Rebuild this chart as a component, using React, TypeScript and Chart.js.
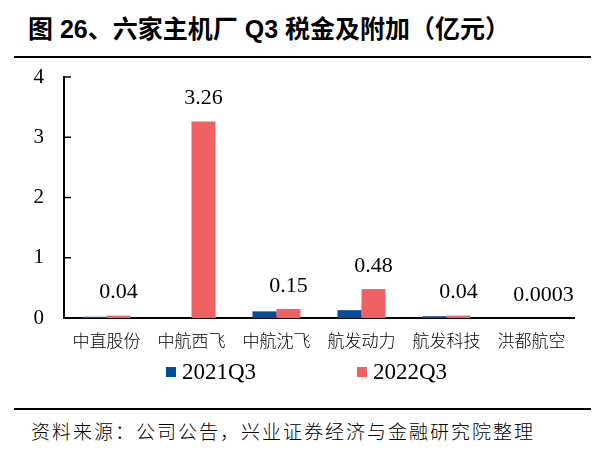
import React, { useEffect, useRef } from "react";
import { Chart, registerables } from "chart.js";

Chart.register(...registerables);

const categories = ["中直股份", "中航西飞", "中航沈飞", "航发动力", "航发科技", "洪都航空"];
const seriesNames = ["2021Q3", "2022Q3"];
const series2021 = [0.02, 0, 0.11, 0.13, 0.03, 0];
const series2022 = [0.04, 3.26, 0.15, 0.48, 0.04, 0.0003];
const labels2022 = ["0.04", "3.26", "0.15", "0.48", "0.04", "0.0003"];
const yTicks = [0, 1, 2, 3, 4];

const BLUE = "#024C98";
const RED = "#F06163";
const SERIF = "'Liberation Serif', 'DejaVu Serif'";
const CJK = "'Noto Sans CJK SC'";

const dataLabelPlugin = {
  id: "dataLabels",
  afterDatasetsDraw(chart: any) {
    const ctx = chart.ctx;
    const meta = chart.getDatasetMeta(1);
    ctx.save();
    ctx.font = `22px ${SERIF}`;
    ctx.fillStyle = "#000";
    ctx.textAlign = "center";
    ctx.textBaseline = "middle";
    meta.data.forEach((bar: any, i: number) => {
      ctx.fillText(labels2022[i], bar.x, bar.y - 23);
    });
    ctx.restore();
  },
};

const innerTicksPlugin = {
  id: "innerTicks",
  afterDraw(chart: any) {
    const ctx = chart.ctx;
    const y = chart.scales.y;
    const left = chart.chartArea.left;
    ctx.save();
    ctx.strokeStyle = "#000";
    ctx.lineWidth = 1.5;
    y.ticks.forEach((t: any) => {
      const py = y.getPixelForValue(t.value);
      ctx.beginPath();
      ctx.moveTo(left, py);
      ctx.lineTo(left + 7, py);
      ctx.stroke();
    });
    ctx.restore();
  },
};

export default function App() {
  const ref = useRef<HTMLCanvasElement | null>(null);

  useEffect(() => {
    document.body.style.margin = "0";
    if (!ref.current) return;
    const chart = new Chart(ref.current, {
      type: "bar",
      data: {
        labels: categories,
        datasets: [
          { label: seriesNames[0], data: series2021, backgroundColor: BLUE },
          { label: seriesNames[1], data: series2022, backgroundColor: RED },
        ],
      },
      options: {
        animation: false,
        responsive: false,
        maintainAspectRatio: false,
        layout: { padding: { top: 17, right: 32, left: 0, bottom: 0 } },
        plugins: {
          legend: { display: false },
          tooltip: { enabled: false },
        },
        datasets: {
          bar: { barPercentage: 1, categoryPercentage: 0.565 },
        },
        scales: {
          x: {
            grid: { display: false, drawTicks: true, tickLength: 12 },
            border: { display: true, color: "#000", width: 2 },
            ticks: {
              color: "#000",
              font: { family: CJK, size: 17, weight: 300 },
              padding: 0,
            },
            afterFit(scale: any) {
              scale.height = 42;
            },
          },
          y: {
            min: 0,
            max: 4,
            afterBuildTicks(scale: any) {
              scale.ticks = yTicks.map((v) => ({ value: v }));
            },
            grid: { display: false, drawTicks: true, tickLength: 20 },
            border: { display: true, color: "#000", width: 2 },
            ticks: {
              color: "#000",
              font: { family: SERIF, size: 21 },
              padding: 0,
            },
            afterFit(scale: any) {
              scale.width = 64;
            },
          },
        },
      },
      plugins: [dataLabelPlugin, innerTicksPlugin],
    });
    return () => chart.destroy();
  }, []);

  return (
    <div style={{ position: "relative", width: 606, height: 458, background: "#fff", overflow: "hidden" }}>
      <div
        style={{
          position: "absolute",
          left: 28,
          top: 16,
          fontFamily: `'Liberation Sans', ${CJK}`,
          fontWeight: "bold",
          fontSize: 25,
          lineHeight: "27px",
          color: "#000",
          whiteSpace: "nowrap",
        }}
      >
        图 26、六家主机厂 Q3 税金及附加（亿元）
      </div>
      <div style={{ position: "absolute", left: 14, top: 56, width: 577, height: 2, background: "#000" }} />
      <canvas
        ref={ref}
        width={606}
        height={300}
        style={{ position: "absolute", left: 0, top: 60, width: 606, height: 300 }}
      />
      <div style={{ position: "absolute", left: 166, top: 367, width: 10, height: 10, background: BLUE }} />
      <div
        style={{ position: "absolute", left: 182, top: 358, fontFamily: SERIF, fontSize: 23, lineHeight: "27px", color: "#000" }}
      >
        {seriesNames[0]}
      </div>
      <div style={{ position: "absolute", left: 357, top: 367, width: 10, height: 10, background: RED }} />
      <div
        style={{ position: "absolute", left: 373, top: 358, fontFamily: SERIF, fontSize: 23, lineHeight: "27px", color: "#000" }}
      >
        {seriesNames[1]}
      </div>
      <div style={{ position: "absolute", left: 14, top: 408, width: 577, height: 2, background: "#000" }} />
      <div
        style={{
          position: "absolute",
          left: 31,
          top: 419,
          fontFamily: CJK,
          fontWeight: 300,
          fontSize: 19,
          letterSpacing: 2,
          lineHeight: "24px",
          color: "#000",
          whiteSpace: "nowrap",
        }}
      >
        资料来源：公司公告，兴业证券经济与金融研究院整理
      </div>
    </div>
  );
}
